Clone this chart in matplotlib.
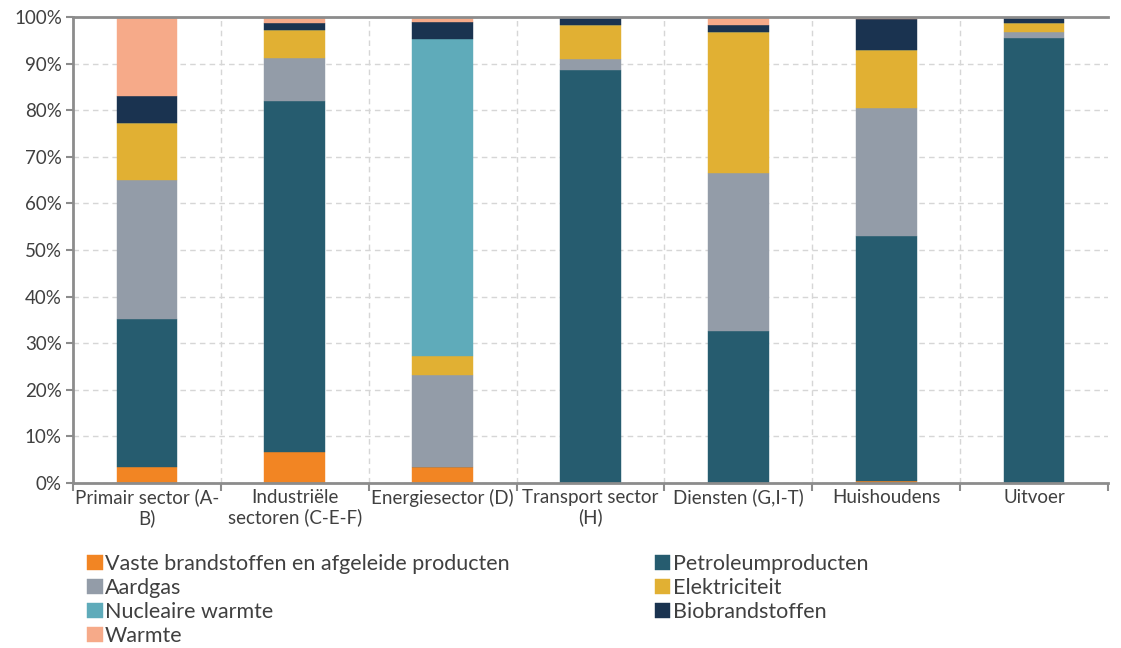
import matplotlib
matplotlib.use("Agg")
import matplotlib.pyplot as plt
import numpy as np

categories = ["Primair sector (A-\nB)", "Industriële\nsectoren (C-E-F)", "Energiesector (D)",
              "Transport sector\n(H)", "Diensten (G,I-T)", "Huishoudens", "Uitvoer"]

series_names = ["Vaste brandstoffen en afgeleide producten", "Petroleumproducten", "Aardgas",
                "Elektriciteit", "Nucleaire warmte", "Biobrandstoffen", "Warmte"]

vaste = [3.4, 6.6, 3.4, 0.0, 0.0, 0.4, 0.1]
petroleum = [31.8, 75.4, 0.0, 88.6, 32.6, 52.6, 95.3]
aardgas = [29.8, 9.3, 19.8, 2.4, 33.9, 27.5, 1.4]
elektriciteit = [12.3, 5.9, 4.1, 7.3, 30.3, 12.5, 1.9]
nucleair = [0.0, 0.0, 68.0, 0.0, 0.0, 0.0, 0.0]
bio = [5.7, 1.6, 3.6, 1.7, 1.5, 6.6, 1.3]
warmte = [17.0, 1.2, 1.1, 0.0, 1.7, 0.4, 0.0]

series = [vaste, petroleum, aardgas, elektriciteit, nucleair, bio, warmte]
colors = ["#F28523", "#265C6F", "#939CA8", "#E1B033", "#5FABBA", "#1A3350", "#F6AA89"]

plt.rcParams['font.family'] = ['Lato', 'DejaVu Sans']
text_color = "#404040"

fig = plt.figure(figsize=(11.21, 6.48), dpi=100)
ax = fig.add_axes([0.0651, 0.2546, 0.9233, 0.7192])

x = np.arange(len(categories))
bottom = np.zeros(len(categories))
handles = []
for name, vals, c in zip(series_names, series, colors):
    vals = np.array(vals)
    h = ax.bar(x, vals, width=0.41, bottom=bottom, color=c, label=name,
               edgecolor=c, linewidth=0.3, zorder=2)
    handles.append(h)
    bottom += vals

ax.set_xlim(-0.5, len(categories) - 0.5)
ax.set_ylim(0, 100)
ax.set_yticks(np.arange(0, 101, 10))
ax.set_yticklabels([f"{v}%" for v in range(0, 101, 10)])
ax.set_xticks(x)
ax.set_xticklabels(categories, linespacing=1.2)
ax.set_xticks(np.arange(-0.5, len(categories), 1), minor=True)

ax.grid(axis='y', color="#d6d6d6", linestyle=(0, (4, 3)), linewidth=1.0, zorder=0)
for b in np.arange(0.5, len(categories) - 0.5, 1):
    ax.axvline(b, color="#d6d6d6", linestyle=(0, (4, 3)), linewidth=1.0, zorder=0)
ax.set_axisbelow(True)

for s in ["left", "bottom", "top"]:
    ax.spines[s].set_color("#8c8c8c")
    ax.spines[s].set_linewidth(2.0)
ax.spines["right"].set_visible(False)

ax.tick_params(axis='y', which='major', length=5, width=1.5, color="#8c8c8c",
               labelsize=13.5, labelcolor=text_color, pad=3)
ax.tick_params(axis='x', which='major', length=0, labelsize=13.5, labelcolor=text_color, pad=4)
ax.tick_params(axis='x', which='minor', length=6, width=1.5, color="#8c8c8c")

order = [0, 2, 4, 6, 1, 3, 5]
leg = fig.legend([handles[i] for i in order], [series_names[i] for i in order],
                 loc="upper left", bbox_to_anchor=(0.078, 0.145), ncol=2, frameon=False,
                 fontsize=15.5, handlelength=0.7, handleheight=0.7, handletextpad=0.12,
                 labelspacing=0.19, columnspacing=6.75, borderaxespad=0, borderpad=0)
for t in leg.get_texts():
    t.set_color(text_color)

fig.savefig("out.png", dpi=100)
